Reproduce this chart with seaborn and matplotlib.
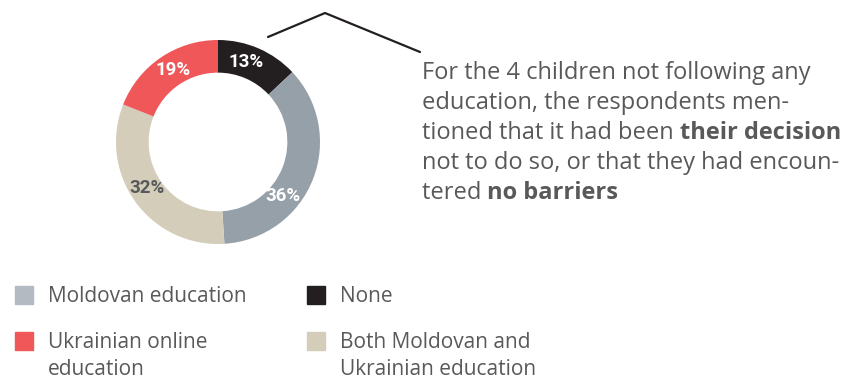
import numpy as np
import matplotlib
matplotlib.use("Agg")
import matplotlib.pyplot as plt
import seaborn as sns

# ---- data (clockwise from top) ----
categories = ["None", "Moldovan education", "Both Moldovan and Ukrainian education", "Ukrainian online education"]
values = [13, 36, 32, 19]
labels = ["13%", "36%", "32%", "19%"]
ring_colors = ["#231f20", "#95a0a9", "#d3cdba", "#ef5759"]
label_colors = ["white", "white", "#58595b", "white"]
label_angle_shift = [4, -18, -3, -2]

legend_items = ["Moldovan education", "None", "Ukrainian online\neducation", "Both Moldovan and\nUkrainian education"]
legend_colors = ["#b4bac2", "#231f20", "#ef5759", "#d3cdba"]

note_lines = [
    [("For the 4 children not following any", "normal")],
    [("education, the respondents men-", "normal")],
    [("tioned that it had been ", "normal"), ("their decision", "bold")],
    [("not to do so, or that they had encoun-", "normal")],
    [("tered ", "normal"), ("no barriers", "bold")],
]

sns.set_theme(style="white")
plt.rcParams["font.family"] = ["Open Sans", "DejaVu Sans"]

W, H = 852, 378
fig = plt.figure(figsize=(W / 100, H / 100), dpi=100)
fig.patch.set_facecolor("white")

cx, cy, R = 218, 142, 102
ax = fig.add_axes([(cx - R) / W, (H - cy - R) / H, 2 * R / W, 2 * R / H])
ax.pie(values, colors=ring_colors, startangle=90, counterclock=False, radius=1.0,
       wedgeprops=dict(width=0.32, edgecolor="none"))
ax.set_xlim(-1, 1)
ax.set_ylim(-1, 1)
ax.set_aspect("equal")
ax.axis("off")

cum = np.cumsum([0] + values)
total = sum(values)
for i, (lab, col) in enumerate(zip(labels, label_colors)):
    mid = 90 - (cum[i] + values[i] / 2) / total * 360 + label_angle_shift[i]
    r = 0.83
    ax.text(r * np.cos(np.radians(mid)), r * np.sin(np.radians(mid)), lab,
            ha="center", va="center", color=col, fontsize=13.5, fontweight="bold",
            family=["Roboto", "DejaVu Sans"])

def fx(px):
    return px / W

def fy(py):
    return 1 - py / H

# connector line
fig.add_artist(plt.Line2D([fx(268), fx(325), fx(420)], [fy(37), fy(13), fy(52)],
                          color="#231f20", lw=1.6, transform=fig.transFigure))

# note text
fig.canvas.draw()
renderer = fig.canvas.get_renderer()
x0 = 422
y_start = 73
for li, line in enumerate(note_lines):
    x = x0
    y = y_start + li * 30
    for txt, wt in line:
        t = fig.text(fx(x), fy(y), txt, ha="left", va="center", fontsize=17,
                     fontweight=wt, color="#595959")
        bb = t.get_window_extent(renderer=renderer)
        x += bb.width

# legend
legend_pos = [(15, 295), (307, 295), (15, 341), (307, 341)]
for (lx, ly), item, col in zip(legend_pos, legend_items, legend_colors):
    fig.add_artist(plt.Rectangle((fx(lx), fy(ly + 9)), 18 / W, 18 / H, color=col,
                                 transform=fig.transFigure))
    n = item.count("\n")
    fig.text(fx(lx + 33), fy(ly + 1 + n * 14), item, ha="left", va="center",
             fontsize=15, color="#595959", linespacing=1.4)

fig.savefig("out.png", dpi=100)
